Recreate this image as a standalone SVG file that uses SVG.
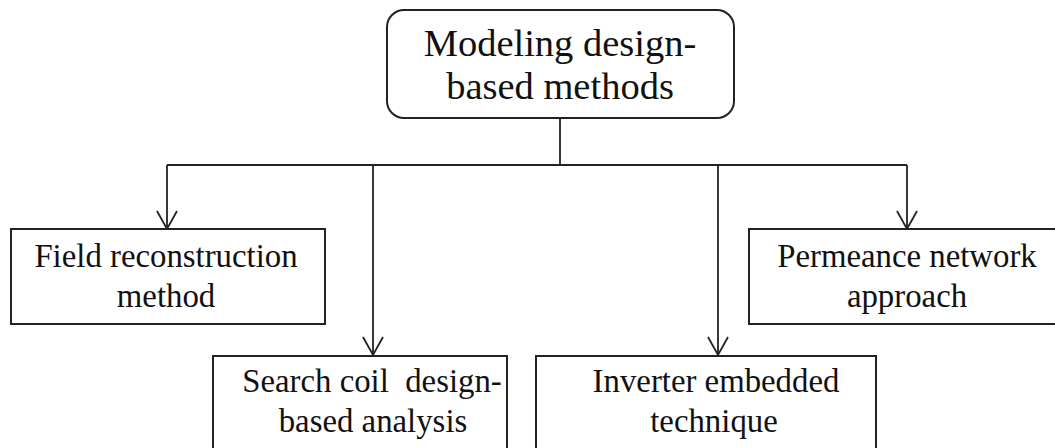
<svg xmlns="http://www.w3.org/2000/svg" width="1055" height="448" viewBox="0 0 1055 448">
  <style>
    .box { fill: #ffffff; stroke: #222222; stroke-width: 2; }
    .lbl { fill: #111111; text-anchor: middle; }
    .big { font-size: 38.5px; }
    .sm { font-size: 32.8px; }
    .wire { fill: none; stroke: #222222; stroke-width: 1.8; }
  </style>
  <defs>
    <marker id="vee" markerUnits="userSpaceOnUse" markerWidth="24" markerHeight="26" viewBox="-21 -13 24 26" refX="0" refY="0" orient="auto">
      <path d="M -18 -10 L 0 0 L -18 10" fill="none" stroke="#222222" stroke-width="1.8"/>
    </marker>
  </defs>
  <rect width="1055" height="448" fill="#ffffff"/>
  <g id="connectors">
    <path class="wire" d="M 560 118 L 560 165"/>
    <path class="wire" d="M 167 165 L 907 165"/>
    <path class="wire" d="M 167 165 L 167 229" marker-end="url(#vee)"/>
    <path class="wire" d="M 373 165 L 373 355" marker-end="url(#vee)"/>
    <path class="wire" d="M 718 165 L 718 355" marker-end="url(#vee)"/>
    <path class="wire" d="M 907 165 L 907 229" marker-end="url(#vee)"/>
  </g>
  <g font-family="'Liberation Serif', 'DejaVu Serif', 'Times New Roman', serif">
  <g id="root">
    <rect class="box" x="387" y="10" width="347" height="108" rx="17" ry="17"/>
    <text class="lbl big" x="560" y="56">Modeling design-</text>
    <text class="lbl big" x="560" y="99">based methods</text>
  </g>
  <g id="field">
    <rect class="box" x="11" y="229" width="314" height="95"/>
    <text class="lbl sm" x="166" y="267">Field reconstruction</text>
    <text class="lbl sm" x="166" y="307">method</text>
  </g>
  <g id="permeance">
    <rect class="box" x="749" y="229" width="320" height="95"/>
    <text class="lbl sm" x="907" y="267">Permeance network</text>
    <text class="lbl sm" x="907" y="307">approach</text>
  </g>
  <g id="search">
    <rect class="box" x="213" y="356" width="294" height="110"/>
    <text class="lbl sm" x="372" y="392" xml:space="preserve">Search coil  design-</text>
    <text class="lbl sm" x="373" y="432">based analysis</text>
  </g>
  <g id="inverter">
    <rect class="box" x="536" y="356" width="340" height="110"/>
    <text class="lbl sm" x="716" y="392">Inverter embedded</text>
    <text class="lbl sm" x="714" y="432">technique</text>
  </g>
  </g>
</svg>
